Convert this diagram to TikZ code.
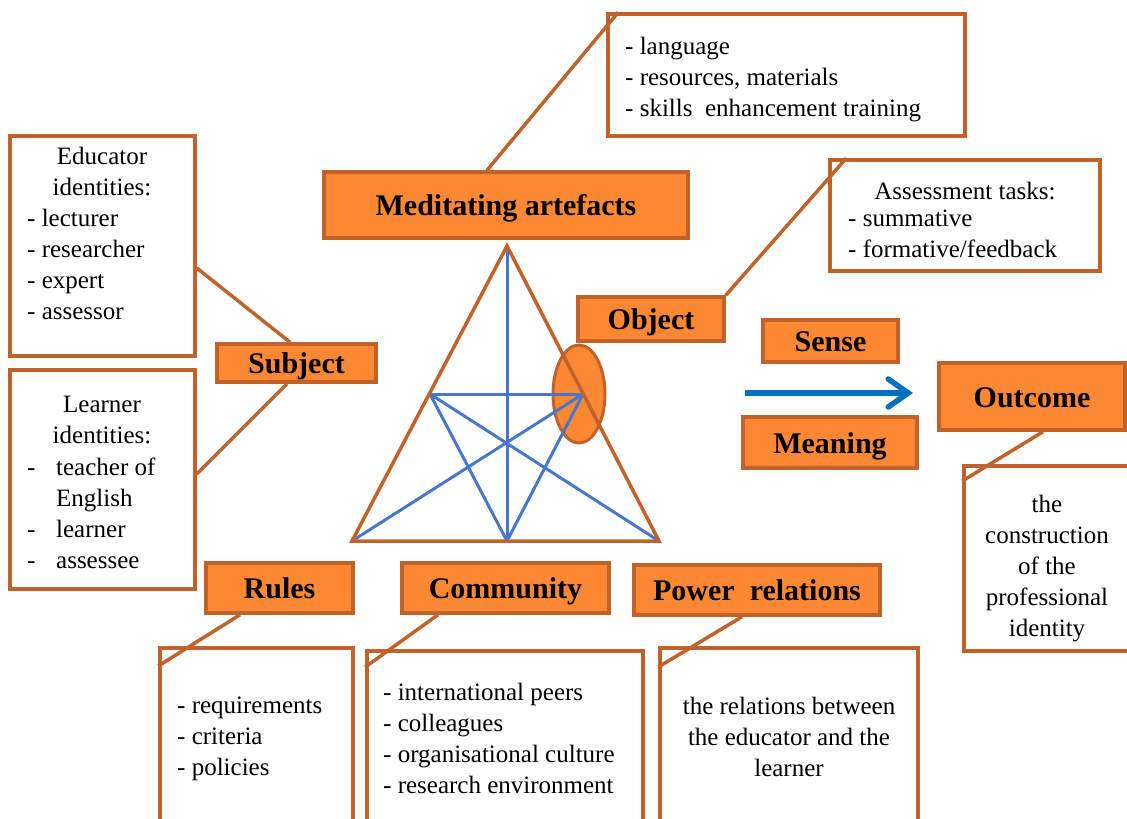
\documentclass[tikz,border=0pt]{standalone}
\usepackage{fontspec}
\setmainfont{Liberation Serif}
\usetikzlibrary{arrows.meta,shapes.geometric}
\definecolor{org}{RGB}{253,136,52}
\definecolor{brd}{RGB}{192,98,42}
\definecolor{blu}{RGB}{72,118,204}
\definecolor{arrc}{RGB}{0,112,192}
\begin{document}
\begin{tikzpicture}[x=1pt,y=-1pt,
 lbl/.style={draw=brd,fill=org,line width=3.5pt,inner sep=0pt,font=\bfseries\fontsize{30}{34}\selectfont,text height=21pt,text depth=0pt},
 tbox/.style={draw=brd,fill=white,line width=3.5pt,inner sep=0pt},
 conn/.style={draw=brd,line width=3.5pt},
 txt/.style={inner sep=0pt,font=\fontsize{25}{31}\selectfont,align=left,execute at begin node=\strut},
 ctxt/.style={inner sep=0pt,font=\fontsize{25}{31}\selectfont,align=center,execute at begin node=\strut},
 bline/.style={draw=blu,line width=3pt}
]
\useasboundingbox (0,0) rectangle (1127,819);
\clip (0,0) rectangle (1127,819);

% ---- text boxes
\node[tbox,minimum width=357,minimum height=122] (artT) at (786.5,75) {};
\node[tbox,minimum width=185,minimum height=220] (edu) at (102.5,246) {};
\node[tbox,minimum width=185,minimum height=219] (lrn) at (102.5,479.5) {};
\node[tbox,minimum width=270,minimum height=111] (assess) at (965,215.5) {};
\node[tbox,minimum width=176,minimum height=185] (outT) at (1052,558.5) {};
\node[tbox,minimum width=193,minimum height=190] (rulesT) at (256.5,743) {};
\node[tbox,minimum width=276,minimum height=187] (commT) at (505,744.5) {};
\node[tbox,minimum width=258,minimum height=190] (powT) at (789,743) {};

% ---- texts
\node[txt,anchor=north west] (artTx) at (625,37) {- language\\- resources, materials\\- skills\ \ enhancement training};
\node[ctxt,anchor=north] (eduH) at (102,147) {Educator\\identities:};
\node[txt,anchor=north west] (eduL) at (27,209) {- lecturer\\- researcher\\- expert\\- assessor};
\node[ctxt,anchor=north] (lrnH) at (102,396) {Learner\\identities:};
\node[txt,anchor=north west] (lrnL) at (27,458) {\makebox[29pt][l]{-}teacher of\\\makebox[29pt][l]{}English\\\makebox[29pt][l]{-}learner\\\makebox[29pt][l]{-}assessee};
\node[ctxt,anchor=north] (assH) at (965,178) {Assessment tasks:};
\node[txt,anchor=north west] (assL) at (848,210) {- summative\\- formative/feedback};
\node[ctxt,anchor=north] (outTx) at (1047,495) {the\\construction\\of the\\professional\\identity};
\node[txt,anchor=north west] (rulesTx) at (177,697) {- requirements\\- criteria\\- policies};
\node[txt,anchor=north west] (commTx) at (383,683) {- international peers\\- colleagues\\- organisational culture\\- research environment};
\node[ctxt,anchor=north] (powTx) at (789,697) {the relations between\\the educator and the\\learner};

% ---- triangle
\node[ellipse,draw=brd,fill=org,line width=3pt,minimum width=52,minimum height=98,inner sep=0pt] (ell) at (579,394) {};
\coordinate (A) at (507,246);
\coordinate (B) at (352,541);
\coordinate (C) at (659,541);
\coordinate (L) at (430,394);
\coordinate (R) at (583,394);
\coordinate (M) at (507,541);
\draw[bline] (A) -- (M);
\draw[bline] (L) -- (R);
\draw[bline] (L) -- (C);
\draw[bline] (R) -- (B);
\draw[bline] (L) -- (M);
\draw[bline] (R) -- (M);
\draw[conn,line join=miter] (A) -- (B) -- (C) -- cycle;

% ---- labels
\node[lbl,minimum width=364,minimum height=66] (art) at (506,205) {Meditating artefacts};
\node[lbl,minimum width=159,minimum height=38] (subj) at (296.5,363) {Subject};
\node[lbl,minimum width=146,minimum height=44] (obj) at (651,319) {Object};
\node[lbl,minimum width=135,minimum height=42] (sense) at (830.5,341) {Sense};
\node[lbl,minimum width=174,minimum height=51] (mean) at (830,442.5) {Meaning};
\node[lbl,minimum width=186,minimum height=67] (outc) at (1032,396.5) {Outcome};
\node[lbl,minimum width=147,minimum height=50] (rules) at (279.5,588) {Rules};
\node[lbl,minimum width=207,minimum height=50] (comm) at (505.5,588) {Community};
\node[lbl,minimum width=246,minimum height=50] (pow) at (757,590) {Power\ \ relations};

% ---- arrow
\coordinate (ar1) at (745,393);
\coordinate (ar2) at (913,393);
\draw[draw=arrc,line width=5.5pt,-{Straight Barb[length=20pt,width=28pt,line cap=round]}] (ar1) -- (ar2);

% ---- connectors
\draw[conn] (art.north -| 487,0) -- ([xshift=12pt]artT.north west);
\draw[conn] (obj.north east) -- ([xshift=18pt]assess.north west);
\draw[conn] (edu.east |- 0,268) -- (subj.north -| 290,0);
\draw[conn] (lrn.east |- 0,474) -- (subj.south -| 287,0);
\draw[conn] (outc.south -| 1043,0) -- (outT.west |- 0,481);
\draw[conn] (rules.south -| 240,0) -- (rulesT.west |- 0,666);
\draw[conn] (comm.south -| 438,0) -- (commT.west |- 0,667);
\draw[conn] (pow.south -| 742,0) -- (powT.west |- 0,667);
\end{tikzpicture}
\end{document}
